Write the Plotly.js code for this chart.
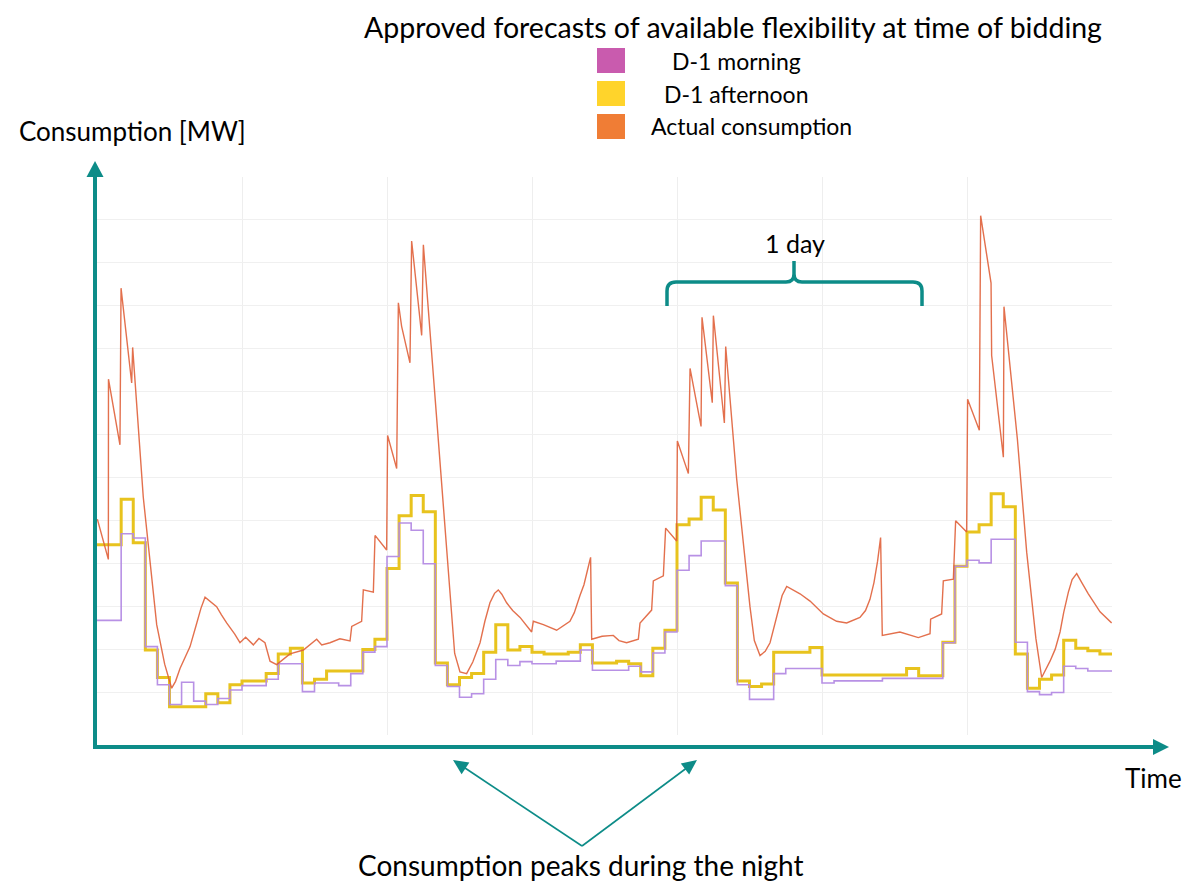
<!DOCTYPE html>
<html>
<head>
<meta charset="utf-8">
<script src="https://cdn.plot.ly/plotly-3.0.1.min.js"></script>
<style>html,body{margin:0;padding:0;background:#fff}#chart{width:1186px;height:882px}</style>
</head>
<body>
<div id="chart"></div>
<script>
// ---------------- DATA ----------------
// Actual consumption (MW) vs time (hours), one array pair per day segment
const actualHoursDay1 = [0.03, 0.94, 0.95, 1.90, 1.99, 2.87, 2.95, 3.83, 4.94, 5.6, 6.18, 6.5, 6.87, 7.3, 7.70, 8.2, 8.6, 8.94, 9.3, 9.90, 10.3, 10.73, 11.4, 11.83, 12.3, 12.94, 13.4, 13.90, 14.32, 14.87, 15.97, 17.08, 18.18, 18.6, 19.28, 20.1, 20.94, 21.08, 21.90, 22.04, 22.87, 23.01, 23.97, 24.05];
const actualMWDay1    = [50.3, 40.9, 82.9, 67.6, 104.1, 82.0, 90.3, 55.4, 25.7, 16.5, 10.9, 12.5, 15.5, 18.3, 20.6, 25.5, 29.5, 32.1, 31.2, 29.9, 28.0, 26.1, 23.5, 21.5, 22.8, 21.0, 22.5, 21.5, 17.2, 16.4, 18.9, 19.8, 22.3, 21.0, 21.5, 22.4, 21.9, 25.3, 26.5, 33.8, 33.3, 46.5, 43.1, 69.8];
const actualHoursDay2 = [24.80, 24.94, 25.21, 25.90, 26.04, 26.87, 27.01, 27.83, 28.94, 29.6, 30.04, 30.59, 31.1, 31.70, 32.1, 32.52, 32.9, 33.21, 33.5, 33.90, 34.4, 35.01, 35.97, 36.11, 36.94, 38.04, 39.14, 39.5, 39.97, 40.3, 40.6, 40.85, 40.94, 41.8, 42.73, 43.2, 43.83, 44.80, 44.94, 45.90, 46.04, 46.87, 47.06, 47.97, 48.03];
const actualMWDay2    = [62.1, 100.7, 95.2, 86.7, 115.1, 93.1, 114.2, 84.2, 42.6, 19.0, 14.7, 14.3, 17.0, 21.5, 26.5, 30.8, 33.0, 33.8, 32.8, 30.8, 29.0, 27.4, 24.0, 26.5, 25.7, 24.4, 26.5, 28.5, 32.5, 35.0, 38.5, 41.4, 22.3, 23.0, 23.2, 22.0, 21.5, 22.3, 26.1, 29.1, 35.9, 37.1, 48.2, 45.2, 68.5];
const actualHoursDay3 = [48.94, 49.08, 49.99, 50.07, 50.92, 51.01, 51.92, 52.03, 52.94, 54.04, 54.4, 54.87, 55.3, 55.70, 56.0, 56.39, 56.7, 57.08, 57.5, 58.18, 59.01, 60.11, 61.21, 62.04, 63.14, 63.6, 63.97, 64.3, 64.6, 64.85, 64.99, 66.45, 67.97, 68.94, 68.99, 69.90, 70.04, 70.87, 71.06, 71.97, 72.05];
const actualMWDay3    = [60.9, 85.4, 71.9, 97.3, 77.4, 97.7, 72.7, 90.5, 59.6, 29.9, 22.0, 18.5, 19.5, 21.5, 25.0, 29.1, 32.5, 34.6, 34.0, 32.9, 31.2, 28.2, 26.5, 26.1, 27.4, 29.0, 31.6, 35.5, 40.5, 46.0, 23.2, 24.0, 22.7, 23.6, 27.0, 28.2, 35.9, 36.3, 49.9, 47.3, 78.2];
const actualHoursDay4 = [73.02, 73.13, 73.99, 74.04, 75.01, 75.06, 75.97, 76.17, 76.94, 77.7, 78.18, 78.87, 79.3, 79.70, 80.0, 80.39, 80.7, 81.08, 81.5, 82.04, 83.01, 83.97];
const actualMWDay4    = [71.0, 121.0, 105.3, 88.4, 64.7, 99.8, 75.7, 68.9, 42.6, 22.5, 13.4, 17.2, 20.0, 24.0, 28.5, 33.3, 36.2, 37.6, 35.5, 32.9, 28.7, 26.1];

// Hourly forecasts (MW), hour 0 .. 83
const afternoonForecast = [
  44.3, 44.3, 54.9, 44.8, 19.8, 13.4, 6.6, 6.6, 6.6, 9.6, 7.5, 11.7, 12.6, 12.6, 14.3, 18.9, 20.2, 12.1, 13.0, 14.9, 14.9, 14.9, 19.9, 22.3,
  38.8, 51.1, 55.8, 52.0, 16.8, 11.7, 13.4, 14.3, 19.3, 25.7, 19.8, 20.6, 19.3, 18.9, 18.9, 19.3, 21.0, 16.8, 16.8, 17.2, 16.6, 13.8, 20.2, 24.4,
  49.0, 50.3, 55.4, 52.4, 35.4, 12.6, 11.3, 11.9, 19.3, 19.3, 19.3, 20.4, 14.0, 14.0, 14.0, 14.0, 14.0, 14.0, 14.0, 15.5, 13.8, 13.8, 21.6, 39.3,
  47.3, 49.0, 56.2, 53.2, 18.9, 10.9, 13.0, 14.0, 22.1, 20.2, 19.6, 18.9
];
const morningForecast = [
  26.7, 26.7, 46.9, 45.9, 20.6, 11.7, 7.1, 12.3, 7.9, 7.1, 8.5, 10.5, 11.5, 11.5, 13.0, 16.6, 16.6, 10.1, 12.1, 12.1, 11.5, 14.3, 19.3, 20.6,
  41.6, 49.4, 47.7, 39.9, 16.2, 11.3, 8.8, 9.6, 13.0, 17.6, 16.2, 17.1, 16.6, 16.6, 17.2, 17.2, 19.8, 15.1, 15.1, 15.1, 16.0, 14.7, 19.1, 24.0,
  38.4, 41.8, 45.2, 45.2, 34.8, 11.7, 8.3, 8.3, 14.3, 15.5, 15.5, 15.5, 12.1, 12.6, 12.6, 12.6, 12.6, 13.2, 13.2, 13.2, 13.2, 13.2, 21.5, 39.3,
  40.7, 40.1, 45.6, 45.6, 21.6, 10.1, 9.4, 9.9, 16.0, 15.5, 14.9, 14.9
];

const seriesNames = ['D-1 morning', 'D-1 afternoon', 'Actual consumption'];
const legendTitle = 'Approved forecasts of available flexibility at time of bidding';
const yLabel = 'Consumption [MW]';
const xLabel = 'Time';
const bracketLabel = '1 day';
const bottomNote = 'Consumption peaks during the night';

// ---------------- STYLE / LAYOUT HELPERS ----------------
const TEAL = '#0d8c88';
const FONT = 'Lato, "Open Sans", sans-serif';
const L = 97, R = 1112, T = 177, B = 735;           // plot area in pixels
const fx = x => (x - L) / (R - L);
const fy = y => (B - y) / (B - T);
const P = (x, y) => fx(x) + ',' + fy(y);

function head(tx, ty, fromX, fromY, len, hw) {
  const dx = tx - fromX, dy = ty - fromY, d = Math.hypot(dx, dy);
  const ux = dx / d, uy = dy / d;
  const bx = tx - ux * len, by = ty - uy * len;
  const nx = -uy, ny = ux;
  return 'M' + P(tx, ty) + ' L' + P(bx + nx * hw, by + ny * hw) + ' L' + P(bx - nx * hw, by - ny * hw) + ' Z';
}

const actualHours = actualHoursDay1.concat(actualHoursDay2, actualHoursDay3, actualHoursDay4);
const actualMW = actualMWDay1.concat(actualMWDay2, actualMWDay3, actualMWDay4);
const stepHours = afternoonForecast.map((_, i) => i).concat([afternoonForecast.length]);
const afternoonStep = afternoonForecast.concat([afternoonForecast[afternoonForecast.length - 1]]);
const morningStep = morningForecast.concat([morningForecast[morningForecast.length - 1]]);

const traces = [
  {x: stepHours, y: afternoonStep, mode: 'lines', name: seriesNames[1],
   line: {shape: 'hv', color: '#e8c31e', width: 3}},
  {x: stepHours, y: morningStep, mode: 'lines', name: seriesNames[0],
   line: {shape: 'hv', color: '#b48be4', width: 1.6}, opacity: 0.95},
  {x: actualHours, y: actualMW, mode: 'lines', name: seriesNames[2],
   line: {color: '#e0603a', width: 1.4}, opacity: 0.9}
];

const shapes = [
  // y axis arrow
  {type: 'line', xref: 'paper', yref: 'paper', x0: fx(95), y0: fy(749), x1: fx(95), y1: fy(172), line: {color: TEAL, width: 4}},
  {type: 'path', xref: 'paper', yref: 'paper', path: head(95, 161, 95, 400, 16, 8.5), fillcolor: TEAL, line: {width: 0}},
  // x axis arrow
  {type: 'line', xref: 'paper', yref: 'paper', x0: fx(93), y0: fy(747), x1: fx(1157), y1: fy(747), line: {color: TEAL, width: 4}},
  {type: 'path', xref: 'paper', yref: 'paper', path: head(1169, 747, 900, 747, 16, 8), fillcolor: TEAL, line: {width: 0}},
  // bottom arrows
  {type: 'line', xref: 'paper', yref: 'paper', x0: fx(582), y0: fy(846), x1: fx(462), y1: fy(766), line: {color: TEAL, width: 1.6}},
  {type: 'path', xref: 'paper', yref: 'paper', path: head(453, 760, 582, 846, 15, 7), fillcolor: TEAL, line: {width: 0}},
  {type: 'line', xref: 'paper', yref: 'paper', x0: fx(582), y0: fy(846), x1: fx(688), y1: fy(767), line: {color: TEAL, width: 1.6}},
  {type: 'path', xref: 'paper', yref: 'paper', path: head(697, 760, 582, 846, 15, 7), fillcolor: TEAL, line: {width: 0}},
  // 1-day bracket
  {type: 'path', xref: 'paper', yref: 'paper', line: {color: TEAL, width: 3.5},
   path: 'M' + P(667, 306) + ' L' + P(667, 291) + ' Q' + P(667, 282) + ' ' + P(676, 282) +
         ' L' + P(786, 282) + ' Q' + P(794, 282) + ' ' + P(794, 274) + ' L' + P(794, 261) +
         ' M' + P(794, 274) + ' Q' + P(794, 282) + ' ' + P(802, 282) +
         ' L' + P(913, 282) + ' Q' + P(922, 282) + ' ' + P(922, 291) + ' L' + P(922, 306)},
  // legend swatches
  {type: 'rect', xref: 'paper', yref: 'paper', x0: fx(597), x1: fx(625), y0: fy(48), y1: fy(73), fillcolor: '#c95bae', line: {width: 0}},
  {type: 'rect', xref: 'paper', yref: 'paper', x0: fx(597), x1: fx(625), y0: fy(81), y1: fy(106), fillcolor: '#ffd42b', line: {width: 0}},
  {type: 'rect', xref: 'paper', yref: 'paper', x0: fx(597), x1: fx(625), y0: fy(114), y1: fy(139), fillcolor: '#f07d35', line: {width: 0}}
];

function label(text, cx, cy, size) {
  return {text: text, showarrow: false, xref: 'paper', yref: 'paper', x: fx(cx), y: fy(cy),
          xanchor: 'center', yanchor: 'middle', font: {family: FONT, size: size, color: '#000'}};
}
const annotations = [
  label(seriesNames[0], 736, 61, 23),
  label(seriesNames[1], 736, 94, 23),
  label(seriesNames[2], 751, 126, 23),
  label(yLabel, 132, 131, 26),
  label(bracketLabel, 795, 243, 25),
  label(xLabel, 1153, 778, 26),
  label(bottomNote, 581, 865, 28)
];

const layout = {
  width: 1186, height: 882,
  margin: {l: L, r: 1186 - R, t: T, b: 882 - B, pad: 0},
  paper_bgcolor: '#fff', plot_bgcolor: '#fff',
  showlegend: false,
  title: {text: legendTitle, x: 733 / 1186, xref: 'container', xanchor: 'center',
          y: 1 - 28 / 882, yref: 'container', yanchor: 'middle',
          font: {family: FONT, size: 28.5, color: '#000'}},
  xaxis: {range: [0, 84], tick0: 0, dtick: 12, showgrid: true, gridcolor: '#eeeeee', gridwidth: 1,
          zeroline: false, showticklabels: false, ticks: '', showline: false, fixedrange: true},
  yaxis: {range: [0, 130], tick0: 0, dtick: 10, showgrid: true, gridcolor: '#f0f0f0', gridwidth: 1,
          zeroline: false, showticklabels: false, ticks: '', showline: false, fixedrange: true},
  shapes: shapes,
  annotations: annotations
};

Plotly.newPlot('chart', traces, layout, {staticPlot: true, displayModeBar: false});
</script>
</body>
</html>
